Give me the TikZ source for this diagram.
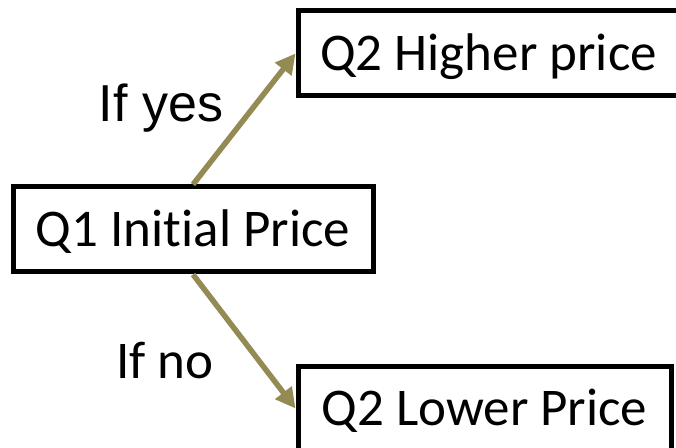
\documentclass[tikz,border=0pt]{standalone}
\usepackage{fontspec}
\setmainfont{Carlito}[Ligatures=NoCommon]
\newfontfamily\arialfont{Liberation Sans}
\usetikzlibrary{arrows.meta}
\definecolor{arrowtan}{RGB}{148,138,84}

\begin{document}
\begin{tikzpicture}[x=1pt,y=1pt,line width=5pt,
  box/.style={draw, rectangle, minimum height=85pt, inner xsep=0pt,
    text height=34pt, text depth=0pt, font=\fontsize{53}{60}\selectfont},
  link/.style={draw=arrowtan, line width=5.5pt, -{Triangle[length=20pt,width=20pt]}},
  answer/.style={anchor=base, font=\fontsize{53}{60}\selectfont}]

\useasboundingbox (0,0) rectangle (676,447);

\node [box, minimum width=360pt] (nodeQ1)   at (193,217.5) {Q1 Initial Price};
\node [box, minimum width=381pt] (nodeHigh) at (488.5,393.5) {Q2 Higher price};
\node [box, minimum width=373pt] (nodeLow)  at (484.5,38.5) {Q2 Lower Price};

\draw [link] (nodeQ1.north) -- (nodeHigh.west);
\draw [link] (nodeQ1.south) -- (nodeLow.west);

\node [answer, font=\arialfont\fontsize{52}{60}\selectfont] (labelYes) at (161,325) {If yes};
\node [answer] (labelNo) at (165,69) {If no};

\end{tikzpicture}
\end{document}
